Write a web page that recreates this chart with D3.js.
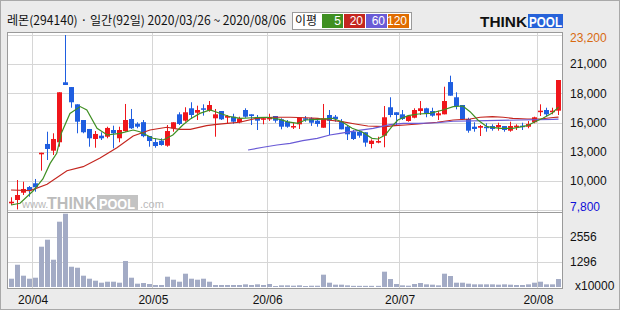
<!DOCTYPE html>
<html>
<head>
<meta charset="utf-8">
<script src="https://cdn.jsdelivr.net/npm/d3@7"></script>
<style>
  body { margin: 0; background: #ebebeb; }
  svg { display: block; }
</style>
</head>
<body>
<div id="chart"></div>
<script>
// daily candles 2020/03/26 ~ 2020/08/06 (92 days)
let opens = [8390, 8680, 9320, 9820, 10150, 12700, 13610, 13020, 13760, 19040,
  18620, 17100, 15720, 14930, 14050, 14340, 14250, 14840, 14110, 14750,
  15810, 15390, 15530, 14310, 13780, 13900, 13460, 14990, 16220, 15660,
  16750, 16360, 16750, 16540, 15870, 16510, 15920, 16010, 15520, 16600,
  16220, 15960, 15750, 15780, 16070, 15780, 15570, 15100, 15340, 15870,
  15870, 15660, 15040, 16160, 16010, 15570, 15130, 14690, 14690, 14640,
  13610, 13730, 14340, 16840, 16400, 16220, 15630, 15920, 16510, 16750,
  16510, 16130, 16220, 19060, 17720, 17040, 15810, 15130, 15040, 15130,
  15190, 15080, 15190, 14780, 15130, 15220, 15130, 15520, 16450, 16600,
  16400, 16540];
let highs = [8920, 10440, 10290, 9910, 10530, 12840, 14690, 14550, 18160, 23200,
  18620, 17100, 15720, 14930, 14750, 14640, 15130, 15220, 15130, 17130,
  16690, 15520, 15720, 14310, 14110, 14110, 15280, 15520, 16400, 16840,
  17280, 16980, 17100, 17390, 16690, 16510, 16160, 16270, 16010, 16750,
  16220, 16160, 15960, 16270, 16070, 15870, 15720, 15480, 15960, 16070,
  15960, 15870, 17130, 16600, 16160, 15800, 15280, 14840, 14750, 14640,
  14020, 14250, 16950, 17720, 16400, 16600, 16160, 16750, 17390, 16800,
  16800, 16540, 18650, 19620, 18160, 17040, 15920, 15520, 15280, 15430,
  15340, 15480, 15190, 15570, 15340, 15480, 15630, 16010, 17100, 16800,
  16800, 19240];
let lows = [8240, 7850, 9120, 8970, 9410, 11260, 12200, 12640, 13370, 18800,
  16800, 14550, 14550, 13370, 13280, 13960, 14110, 13230, 13760, 14690,
  14930, 14990, 14200, 13370, 13280, 13460, 13370, 14690, 15280, 15570,
  15810, 15720, 16100, 16450, 14250, 15720, 15430, 15390, 15430, 15920,
  15280, 14840, 15340, 15640, 15480, 14900, 15040, 14930, 14930, 15570,
  15200, 15130, 15040, 14400, 15570, 14900, 13960, 13960, 14160, 13370,
  13230, 13670, 13320, 15960, 15220, 15720, 15570, 15870, 16160, 15960,
  16010, 15720, 16220, 17860, 16660, 15720, 14600, 14690, 14310, 14690,
  14780, 14780, 14690, 14690, 14840, 14840, 14990, 15430, 16070, 16070,
  16220, 16160];
let closes = [8530, 9120, 9650, 9560, 9800, 12840, 13170, 14050, 18160, 18800,
  17280, 15570, 14640, 14110, 14490, 14110, 15020, 14550, 14840, 15720,
  14990, 15130, 14300, 13870, 13430, 13520, 14750, 15520, 15370, 16400,
  16160, 16600, 16660, 17040, 16220, 15780, 16070, 15570, 15870, 16010,
  16070, 15660, 15870, 15960, 15660, 15130, 15130, 15190, 15920, 15780,
  15480, 15370, 15870, 15660, 15810, 14900, 14460, 14050, 14340, 13730,
  13900, 13870, 15960, 16160, 16160, 15810, 16070, 16600, 16750, 16310,
  16100, 16310, 17390, 17860, 16950, 15780, 14780, 14930, 15190, 15040,
  14930, 15280, 14840, 15190, 15220, 15130, 15370, 15960, 16540, 16220,
  16540, 19240];
// volume, x10000
let volumes = [424, 1138, 578, 424, 475, 2060, 2418, 1394, 3338, 3746,
  1036, 985, 578, 424, 322, 220, 271, 271, 220, 1330,
  475, 170, 203, 153, 102, 102, 527, 373, 271, 680,
  424, 373, 424, 271, 102, 102, 102, 102, 102, 136,
  102, 136, 102, 153, 51, 85, 85, 68, 85, 51,
  66, 66, 630, 220, 119, 119, 85, 60, 60, 60,
  60, 60, 783, 408, 153, 85, 68, 153, 203, 136,
  119, 85, 680, 562, 220, 220, 170, 136, 136, 136,
  136, 119, 136, 119, 102, 102, 136, 220, 271, 136,
  136, 408];

// moving averages: [day index, price]
let ma5 = [[0, 8240], [1.5, 8390], [3.7, 9490], [5.3, 10530], [6.5, 11900], [7.6, 12790],
  [8.4, 14600], [9.8, 16300], [11.5, 16900], [12.6, 16600], [14.3, 14990], [16, 14400],
  [18.1, 14550], [20.3, 14840], [21.4, 14690], [23.6, 14110], [25.3, 13960], [26.9, 14400],
  [28.6, 15300], [29.8, 15800], [31.4, 16300], [33.1, 16600], [34.7, 16310], [36.4, 16010],
  [38.1, 15870], [40.2, 15920], [42.6, 15960], [44.7, 15780], [46, 15550], [47.7, 15430],
  [48.9, 15720], [51, 15780], [53.4, 15870], [55, 15570], [56.7, 14990], [58.3, 14690],
  [60, 14110], [61, 14050], [62.2, 14400], [63.3, 15130], [64.3, 15720], [66, 16100],
  [67.7, 16250], [69.6, 16310], [71.8, 16600], [73.5, 16890], [75.1, 16950], [76.3, 16450],
  [77.6, 15720], [79.1, 15130], [81.3, 14990], [83.4, 14990], [85.8, 15220], [87.1, 15570],
  [88.4, 15870], [89.9, 16310], [91, 16850]];
let ma20 = [[0, 9560], [3.2, 9500], [6, 10060], [9.3, 11260], [12, 11610], [14.8, 12380],
  [17.6, 13280], [20.3, 14310], [23.1, 14840], [25.9, 15080], [28, 14900], [29.8, 14900],
  [32.5, 15220], [34.2, 15340], [35.9, 15430], [38, 15520], [40.8, 15870], [43.5, 15960],
  [46.4, 15960], [48.9, 15920], [51, 15870], [52.7, 15720], [55, 15570], [57.2, 15370],
  [59.3, 15190], [62.2, 15130], [63.8, 15220], [65.5, 15280], [67.7, 15370], [70.8, 15520],
  [73.5, 15720], [76.3, 15810], [78, 15960], [80, 16010], [81.8, 15960], [83.4, 15870],
  [85.8, 15810], [88, 15810], [90.1, 15940], [91, 15980]];
let ma60 = [[39.4, 13080], [41.9, 13320], [44.2, 13520], [46.4, 13670], [48.5, 13900],
  [50.9, 14110], [53, 14400], [54.7, 14550], [57.5, 14780], [60.2, 14990], [63, 15320],
  [65.2, 15430], [67.7, 15430], [70.8, 15480], [73.5, 15610], [79.1, 15660], [84.6, 15720],
  [90.1, 15780], [91, 15790]];

let priceTicks = [7800, 10367, 12933, 15500, 18067, 20633, 23200];
let priceLabels = ["7,800", "10,000", "13,000", "16,000", "18,000", "21,000", "23,200"];
let volTicks = [1296, 2556];
let monthIdx = [4, 24, 43, 65, 88];
let monthLabels = ["20/04", "20/05", "20/06", "20/07", "20/08"];
let maNames = ["5", "20", "60", "120"];
let maColors = ["#3f8f22", "#c4261f", "#6a5bd6", "#e06c00"];

let W = 620, H = 310,
  pLeft = 7, pRight = 562, pTop = 32, pSplit = 212, pBottom = 288;
let numFont = "'Liberation Sans', Arial, sans-serif";
let upColor = "#f0161b", downColor = "#1f5ee0";

let svg = d3.select("#chart").append("svg").attr("width", W).attr("height", H);

svg.append("rect").attr("width", W).attr("height", H).attr("fill", "#ebebeb");
svg.append("rect").attr("x", 0.5).attr("y", 0.5).attr("width", W - 1).attr("height", H - 1)
  .attr("fill", "none").attr("stroke", "#a9a9a9");

// plot area
svg.append("rect").attr("x", pLeft).attr("y", pTop).attr("width", pRight - pLeft).attr("height", pBottom - pTop)
  .attr("fill", "#fff");

// scales
let X = d3.scaleBand().domain(d3.range(closes.length)).range([8, 561.5]).padding(0);
let cx = (i) => 8 + X.bandwidth() * (i + 0.5);
let Y = d3.scaleLinear().domain([7800, 23200]).range([210, 35]);
let V = d3.scaleLinear().domain([0, 3834]).range([287, 212]);

// grid
let grid = svg.append("g").attr("stroke", "#d6d6d6").attr("stroke-width", 1);
priceTicks.forEach((t) => {
  let y = Math.round(Y(t)) + 0.5;
  grid.append("line").attr("x1", pLeft).attr("x2", pRight).attr("y1", y).attr("y2", y);
});
volTicks.forEach((t) => {
  let y = Math.round(V(t)) + 0.5;
  grid.append("line").attr("x1", pLeft).attr("x2", pRight).attr("y1", y).attr("y2", y);
});
monthIdx.forEach((i) => {
  let x = Math.round(X(i)) + 0.5;
  grid.append("line").attr("x1", x).attr("x2", x).attr("y1", pTop).attr("y2", pBottom);
});

// watermark
let wm = svg.append("g").attr("font-family", numFont);
wm.append("text").attr("x", 22).attr("y", 208).attr("font-size", 11).attr("fill", "#b9b9b9").text("www.");
wm.append("text").attr("x", 47).attr("y", 209).attr("font-size", 16).attr("font-weight", "bold")
  .attr("fill", "#bcbcbc").attr("textLength", 49).attr("lengthAdjust", "spacingAndGlyphs").text("THINK");
wm.append("rect").attr("x", 97).attr("y", 195).attr("width", 41).attr("height", 15).attr("fill", "#c3c3c3");
wm.append("text").attr("x", 99).attr("y", 209).attr("font-size", 15).attr("font-weight", "bold")
  .attr("fill", "#fff").attr("textLength", 36).attr("lengthAdjust", "spacingAndGlyphs").text("POOL");
wm.append("text").attr("x", 140).attr("y", 208).attr("font-size", 11).attr("fill", "#b9b9b9").text(".com");

// volume bars
svg.append("g").selectAll("rect").data(volumes).enter().append("rect")
  .attr("x", (d, i) => Math.round(cx(i) - 2.5))
  .attr("y", (d) => V(d))
  .attr("width", 5)
  .attr("height", (d) => 287 - V(d))
  .attr("fill", "#a3abc5");

// candles
let candles = svg.append("g").selectAll("g").data(closes).enter().append("g");
candles.append("line")
  .attr("x1", (d, i) => Math.round(cx(i) - 2.5) + 2.5)
  .attr("x2", (d, i) => Math.round(cx(i) - 2.5) + 2.5)
  .attr("y1", (d, i) => Y(highs[i]))
  .attr("y2", (d, i) => Y(lows[i]))
  .attr("stroke", (d, i) => (d >= opens[i] ? upColor : downColor))
  .attr("stroke-width", 1);
candles.append("rect")
  .attr("x", (d, i) => Math.round(cx(i) - 2.5))
  .attr("y", (d, i) => Y(Math.max(d, opens[i])))
  .attr("width", 5)
  .attr("height", (d, i) => Math.max(1.5, Math.abs(Y(d) - Y(opens[i]))))
  .attr("fill", (d, i) => (d >= opens[i] ? upColor : downColor));

// moving averages
let maLine = d3.line().x((d) => cx(d[0])).y((d) => Y(d[1]));
[[ma20, maColors[1]], [ma60, maColors[2]], [ma5, maColors[0]]].forEach(([pts, c]) => {
  svg.append("path").attr("d", maLine(pts)).attr("fill", "none")
    .attr("stroke", c).attr("stroke-width", 1.2);
});

// panel borders
let frame = svg.append("g").attr("stroke", "#9a9a9a").attr("fill", "none");
frame.append("rect").attr("x", pLeft + 0.5).attr("y", pTop + 0.5)
  .attr("width", pRight - pLeft).attr("height", pBottom - pTop);
frame.append("line").attr("x1", pLeft).attr("x2", pRight + 1).attr("y1", pSplit + 0.5).attr("y2", pSplit + 0.5);

// right axis labels
let axis = svg.append("g").attr("font-family", numFont).attr("font-size", 12);
priceTicks.forEach((t, k) => {
  let y = Y(t);
  if (k === 0) y -= 3;
  if (k === priceTicks.length - 1) y += 3;
  axis.append("text").attr("x", 570).attr("y", y).attr("dy", "0.36em")
    .attr("fill", k === 0 ? "#1010d8" : k === priceTicks.length - 1 ? "#d86a10" : "#111")
    .text(priceLabels[k]);
});
volTicks.forEach((t) => {
  axis.append("text").attr("x", 570).attr("y", V(t)).attr("dy", "0.36em").attr("fill", "#111").text(t);
});
axis.append("text").attr("x", 575).attr("y", 286).attr("dy", "0.36em").attr("fill", "#111").text("x10000");

// x labels
monthIdx.forEach((i, k) => {
  axis.append("text").attr("x", X(i) + 1).attr("y", 300).attr("dy", "0.36em")
    .attr("text-anchor", "middle").attr("fill", "#111").text(monthLabels[k]);
});

// header
svg.append("text").attr("x", 7).attr("y", 25)
  .attr("font-family", "'Noto Sans CJK KR', sans-serif").attr("font-size", 12.5).attr("fill", "#111")
  .attr("textLength", 279).attr("lengthAdjust", "spacingAndGlyphs")
  .text("레몬(294140) · 일간(92일) 2020/03/26 ~ 2020/08/06");

// MA legend
let lg = svg.append("g");
lg.append("rect").attr("x", 292.5).attr("y", 12.5).attr("width", 119).attr("height", 17)
  .attr("fill", "#fff").attr("stroke", "#9a9a9a");
lg.append("text").attr("x", 295).attr("y", 25).attr("font-family", "'Noto Sans CJK KR', sans-serif")
  .attr("font-size", 12).attr("fill", "#111").text("이평");
maNames.forEach((n, k) => {
  let x0 = 322 + k * 22;
  lg.append("rect").attr("x", x0).attr("y", 14).attr("width", 21).attr("height", 14).attr("fill", maColors[k]);
  lg.append("text").attr("x", x0 + 19).attr("y", 25).attr("text-anchor", "end")
    .attr("font-family", numFont).attr("font-size", 12).attr("fill", "#fff").text(n);
});

// logo
let logo = svg.append("g").attr("font-family", numFont).attr("font-weight", "bold");
logo.append("text").attr("x", 480).attr("y", 27).attr("font-size", 14).attr("fill", "#111")
  .attr("textLength", 47).attr("lengthAdjust", "spacingAndGlyphs").text("THINK");
logo.append("rect").attr("x", 528).attr("y", 14).attr("width", 35).attr("height", 14).attr("fill", "#2662d9");
logo.append("text").attr("x", 529).attr("y", 27).attr("font-size", 14).attr("fill", "#fff")
  .attr("textLength", 33).attr("lengthAdjust", "spacingAndGlyphs").text("POOL");
</script>
</body>
</html>
